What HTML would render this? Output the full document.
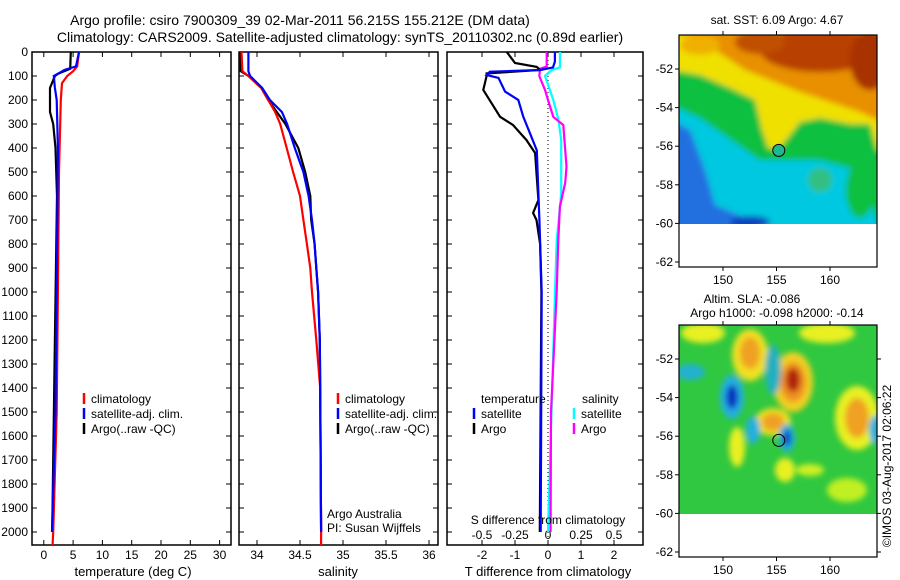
<!DOCTYPE html>
<html><head><meta charset="utf-8"><style>
body{margin:0;background:#fff}
svg{display:block;font-family:"Liberation Sans",sans-serif}
text{font-size:12px;fill:#000}
</style></head><body>
<svg id="c" width="900" height="580" viewBox="0 0 900 580">
<defs>
<filter id="bl" x="-20%" y="-20%" width="140%" height="140%"><feGaussianBlur stdDeviation="3"/></filter>
<filter id="bl2" x="-50%" y="-50%" width="200%" height="200%"><feGaussianBlur stdDeviation="3"/></filter>
<clipPath id="m1c"><rect x="679" y="35" width="198" height="189"/></clipPath>
<clipPath id="m2c"><rect x="679" y="325" width="198" height="189"/></clipPath>
</defs>
<text x="300" y="25" text-anchor="middle" style="font-size:14px">Argo profile: csiro 7900309_39 02-Mar-2011 56.215S 155.212E (DM data)</text>
<text x="340" y="42" text-anchor="middle" style="font-size:14px">Climatology: CARS2009. Satellite-adjusted climatology: synTS_20110302.nc (0.89d earlier)</text>
<g id="maps"></g>
<g id="plots"></g>
</svg>
<script>
// ---- depth axis ----
const depthTicks=[0,100,200,300,400,500,600,700,800,900,1000,1100,1200,1300,1400,1500,1600,1700,1800,1900,2000];
// ---- temperature panel ----
const tempTicks=[0,5,10,15,20,25,30];
const tClimDepth=[0,60,80,100,130,200,300,500,1000,1500,2000,2054];
const tClimVal=[6.0,5.7,5.0,4.0,3.1,2.9,2.8,2.6,2.4,2.2,1.6,1.5];
const tSatDepth=[0,60,75,85,100,150,200,400,1000,1500,2000];
const tSatVal=[6.0,5.5,3.5,2.8,1.7,1.9,2.2,2.4,2.2,2.0,1.4];
const tArgoDepth=[0,70,90,100,150,250,300,400,600,1200,2000];
const tArgoVal=[4.6,4.5,2.5,1.9,1.05,1.05,1.6,2.0,2.25,1.9,1.44];
// ---- salinity panel ----
const salTicks=[34,34.5,35,35.5,36];
const sClimDepth=[0,80,100,150,200,250,300,400,500,600,700,800,900,1000,1200,1400,2000,2054];
const sClimVal=[33.82,33.83,33.9,34.05,34.13,34.21,34.27,34.345,34.42,34.5,34.54,34.58,34.62,34.64,34.69,34.735,34.745,34.745];
const sSatDepth=[0,80,100,150,200,250,300,400,500,600,700,800,900,1000,1200,1400,2000];
const sSatVal=[33.9,33.9,33.92,34.06,34.15,34.29,34.35,34.44,34.54,34.6,34.64,34.67,34.69,34.71,34.73,34.735,34.745];
const sArgoDepth=[0,80,100,150,200,250,300,400,500,600,700,800,900,1000,1200,1400,2000];
const sArgoVal=[33.81,33.81,33.9,34.05,34.13,34.23,34.33,34.48,34.56,34.62,34.63,34.67,34.69,34.71,34.73,34.735,34.745];
// ---- difference panel ----
const dTTicks=[-2,-1,0,1,2];
const dSTicks=[-0.5,-0.25,0,0.25,0.5];
const dTSatDepth=[0,40,64,75,82,96,108,165,200,270,338,410,700,1000,2000];
const dTSatVal=[0.21,0.21,0.15,-0.24,-1.76,-1.86,-1.5,-1.3,-0.9,-0.75,-0.55,-0.34,-0.26,-0.19,-0.22];
const dTArgoDepth=[0,46,62,75,89,100,158,270,304,367,421,617,671,700,800,1000,2000];
const dTArgoVal=[-1.25,-1.0,-0.34,-0.24,-1.86,-1.86,-1.96,-1.45,-1.06,-0.65,-0.39,-0.29,-0.45,-0.35,-0.24,-0.2,-0.25];
const dSSatDepth=[0,64,75,100,120,200,280,367,588,671,783,1000,2000];
const dSSatVal=[0.091,0.09,0.028,-0.023,-0.01,0.04,0.078,0.1,0.1,0.086,0.066,0.053,0.0];
const dSArgoDepth=[0,60,70,100,158,200,270,304,478,546,645,783,1000,1500,2000];
const dSArgoVal=[-0.01,-0.01,-0.06,-0.066,-0.023,0.0,0.04,0.116,0.14,0.13,0.09,0.078,0.066,0.023,0.02];
// ---- map axes ----
const lonTicks=[150,155,160];
const latTicks=[-52,-54,-56,-58,-60,-62];
const argoLon=155.212, argoLat=-56.215;

const NS='http://www.w3.org/2000/svg';
const plots=document.getElementById('plots');
const maps=document.getElementById('maps');
function mk(tag,attrs,parent,txt){const e=document.createElementNS(NS,tag);for(const k in attrs)e.setAttribute(k,attrs[k]);if(txt!==undefined)e.textContent=txt;(parent||plots).appendChild(e);return e;}
const yD=d=>52+0.24*d;
const PT=545;
const xT=v=>43.8+5.86*v;
const xS=v=>257+86*(v-34);
const xDT=v=>548+33*v;
const xDS=v=>548+132*v;

function panel(x0,x1,name){
  const r=mk('rect',{x:x0,y:52,width:x1-x0,height:PT-52,fill:'none',stroke:'#000','stroke-width':1.5});
  
  
  depthTicks.forEach(d=>{
    const y=yD(d);
    const t1=mk('line',{x1:x0,x2:x0+5,y1:y,y2:y,stroke:'#000'});
    
    
    const t2=mk('line',{x1:x1-5,x2:x1,y1:y,y2:y,stroke:'#000'});
    
    
  });
}
function xticks(ticks,fx,x0,name,labels,ly){
  ticks.forEach(v=>{
    const x=fx(v);
    const a=mk('line',{x1:x,x2:x,y1:PT,y2:PT-5,stroke:'#000'});
    
    
    const b=mk('line',{x1:x,x2:x,y1:52,y2:57,stroke:'#000'});
    
    
    if(labels){
      const t=mk('text',{x:x,y:ly||559,'text-anchor':'middle'},plots,String(v));
      
      
    }
  });
}
function line(ds,vs,fx,color,name){
  const pts=ds.map((d,i)=>fx(vs[i]).toFixed(1)+','+yD(d).toFixed(1)).join(' ');
  const p=mk('polyline',{points:pts,fill:'none',stroke:color,'stroke-width':2.2,'stroke-linejoin':'miter'});
  
  
}
function leg(x,y,color,label,name){
  const l=mk('line',{x1:x,x2:x,y1:y-10,y2:y+1,stroke:color,'stroke-width':2.5});
  
  
  const t=mk('text',{x:x+7,y:y},plots,label);
  
  
}

depthTicks.forEach(d=>{
  const t=mk('text',{x:28,y:yD(d)+4,'text-anchor':'end'},plots,String(d));
  
  
});

// Panel 1
panel(32,231,'temperature-panel');
xticks(tempTicks,xT,32,'temperature',true);
line(tArgoDepth,tArgoVal,xT,'#000','temperature-argo-line');
line(tClimDepth,tClimVal,xT,'#f00','temperature-climatology-line');
line(tSatDepth,tSatVal,xT,'#00f','temperature-satellite-line');
leg(84,403,'#f00','climatology','temp-legend-climatology');
leg(84,418,'#00f','satellite-adj. clim.','temp-legend-satellite');
leg(84,433,'#000','Argo(..raw -QC)','temp-legend-argo');
let t=mk('text',{x:133,y:576,'text-anchor':'middle',style:'font-size:13px'},plots,'temperature (deg C)');



// Panel 2
panel(239,438,'salinity-panel');
xticks(salTicks,xS,239,'salinity',true);
line(sArgoDepth,sArgoVal,xS,'#000','salinity-argo-line');
line(sClimDepth,sClimVal,xS,'#f00','salinity-climatology-line');
line(sSatDepth,sSatVal,xS,'#00f','salinity-satellite-line');
leg(338,403,'#f00','climatology','sal-legend-climatology');
leg(338,418,'#00f','satellite-adj. clim.','sal-legend-satellite');
leg(338,433,'#000','Argo(..raw -QC)','sal-legend-argo');
t=mk('text',{x:327,y:518},plots,'Argo Australia');


t=mk('text',{x:327,y:532},plots,'PI: Susan Wijffels');


t=mk('text',{x:338,y:576,'text-anchor':'middle',style:'font-size:13px'},plots,'salinity');



// Panel 3
panel(447,643,'difference-panel');
xticks(dTTicks,xDT,447,'t-difference',true);
dSTicks.forEach(v=>{
  const tt=mk('text',{x:xDS(v),y:539,'text-anchor':'middle'},plots,String(v));
  
  
});
const zl=mk('line',{x1:xDT(0),x2:xDT(0),y1:52,y2:PT,stroke:'#000','stroke-dasharray':'1,3'});


line(dSSatDepth,dSSatVal,xDS,'#0ff','s-diff-satellite-line');
line(dSArgoDepth,dSArgoVal,xDS,'#f0f','s-diff-argo-line');
line(dTArgoDepth,dTArgoVal,xDT,'#000','t-diff-argo-line');
line(dTSatDepth,dTSatVal,xDT,'#00f','t-diff-satellite-line');
t=mk('text',{x:481,y:403},plots,'temperature');


t=mk('text',{x:582,y:403},plots,'salinity');


leg(474,418,'#00f','satellite','diff-legend-t-satellite');
leg(474,433,'#000','Argo','diff-legend-t-argo');
leg(574,418,'#0ff','satellite','diff-legend-s-satellite');
leg(574,433,'#f0f','Argo','diff-legend-s-argo');
t=mk('text',{x:548,y:524,'text-anchor':'middle'},plots,'S difference from climatology');


t=mk('text',{x:548,y:576,'text-anchor':'middle',style:'font-size:13px'},plots,'T difference from climatology');



// ---- Maps ----
function mapFrame(y0,lat52y,name,rightTicks){
  const xL=lon=>723+(lon-150)*10.7;
  const yL=lat=>lat52y+(-52-lat)*19.3;
  const r=mk('rect',{x:679,y:y0,width:198,height:232,fill:'none',stroke:'#000','stroke-width':1.2},maps);
  
  
  latTicks.forEach(la=>{
    const y=yL(la);
    const l=mk('line',{x1:675,x2:679,y1:y,y2:y,stroke:'#000'},maps);
    
    
    if(rightTicks){const l2=mk('line',{x1:877,x2:881,y1:y,y2:y,stroke:'#000'},maps);
    
    }
    const tx=mk('text',{x:673,y:y+4,'text-anchor':'end'},maps,String(la));
    
    
  });
  lonTicks.forEach(lo=>{
    const x=xL(lo);
    const a=mk('line',{x1:x,x2:x,y1:y0-4,y2:y0,stroke:'#000'},maps);
    
    
    const b=mk('line',{x1:x,x2:x,y1:y0+232,y2:y0+236,stroke:'#000'},maps);
    
    
    const tx=mk('text',{x:x,y:y0+249,'text-anchor':'middle'},maps,String(lo));
    
    
  });
  return {xL,yL};
}
// Map 1 SST
let g=mk('g',{'clip-path':'url(#m1c)'},maps);


let gb=mk('g',{filter:'url(#bl)'},g);
mk('rect',{x:660,y:20,width:240,height:220,fill:'#e89000'},gb);
mk('ellipse',{cx:820,cy:50,rx:60,ry:22,fill:'#b84000'},gb);
mk('ellipse',{cx:870,cy:60,rx:20,ry:30,fill:'#a83000'},gb);
mk('ellipse',{cx:760,cy:42,rx:25,ry:12,fill:'#c05000'},gb);
mk('polygon',{points:'660,35 700,35 715,50 745,70 800,92 860,112 900,130 900,240 660,240',fill:'#f0e000'},gb);
mk('ellipse',{cx:700,cy:45,rx:20,ry:10,fill:'#f0b000'},gb);
mk('polygon',{points:'660,68 700,75 730,88 755,100 762,130 768,148 778,150 786,140 800,122 820,118 850,124 870,124 877,150 900,150 900,240 660,240',fill:'#10c040'},gb);
mk('polygon',{points:'660,100 700,118 740,146 760,160 790,160 820,160 850,168 865,172 870,200 877,220 900,240 660,240',fill:'#00c8e0'},gb);
mk('ellipse',{cx:860,cy:190,rx:14,ry:28,fill:'#10c040'},gb);
mk('ellipse',{cx:820,cy:180,rx:12,ry:12,fill:'#30c080'},gb);
mk('polygon',{points:'660,115 690,130 705,170 715,205 745,218 760,240 660,240',fill:'#2070e0'},gb);
mk('ellipse',{cx:750,cy:222,rx:20,ry:6,fill:'#1040c0'},gb);
const f1=mapFrame(35,69,'sst-map',false);
const c1=mk('circle',{cx:f1.xL(argoLon),cy:f1.yL(argoLat),r:6,fill:'#20b890',stroke:'#000'},maps);


t=mk('text',{x:777,y:24,'text-anchor':'middle'},maps,'sat. SST: 6.09 Argo: 4.67');



// Map 2 SLA
g=mk('g',{'clip-path':'url(#m2c)'},maps);


mk('rect',{x:679,y:325,width:198,height:189,fill:'#30c840'},g);
gb=mk('g',{filter:'url(#bl2)'},g);
[[703,333,22,10,'#e8f020'],[827,333,28,10,'#e8f020'],[750,355,18,26,'#f0e020'],[750,353,10,16,'#f0a020'],
 [793,382,20,30,'#f0d020'],[793,382,13,20,'#f09020'],[793,380,7,12,'#b02010'],
 [690,372,15,8,'#20b0d0'],[773,370,8,25,'#20b0c0'],[732,397,12,22,'#20b0e0'],[732,397,6,12,'#1030c0'],
 [773,422,18,14,'#f0e020'],[773,422,11,9,'#f0a020'],[787,438,8,14,'#20b0e0'],[787,438,4,8,'#1040c0'],
 [753,430,7,14,'#20b0e0'],[857,418,22,32,'#e8f020'],[857,418,12,20,'#f0a020'],[737,447,8,20,'#e8f020'],
 [847,490,20,12,'#c0f020'],[785,470,10,12,'#e8f020'],[810,470,14,6,'#d0f020'],[877,430,8,15,'#20b0e0']
].forEach(b=>mk('ellipse',{cx:b[0],cy:b[1],rx:b[2],ry:b[3],fill:b[4]},gb));
const f2=mapFrame(325,359,'sla-map',true);
const c2=mk('circle',{cx:f2.xL(argoLon),cy:f2.yL(argoLat),r:6,fill:'none',stroke:'#000'},maps);


t=mk('text',{x:752,y:303,'text-anchor':'middle'},maps,'Altim. SLA: -0.086');


t=mk('text',{x:777,y:317,'text-anchor':'middle'},maps,'Argo h1000: -0.098 h2000: -0.14');


t=mk('text',{x:891,y:466,'text-anchor':'middle',transform:'rotate(-90 891 466)'},maps,'©IMOS 03-Aug-2017 02:06:22');


</script>
</body></html>
